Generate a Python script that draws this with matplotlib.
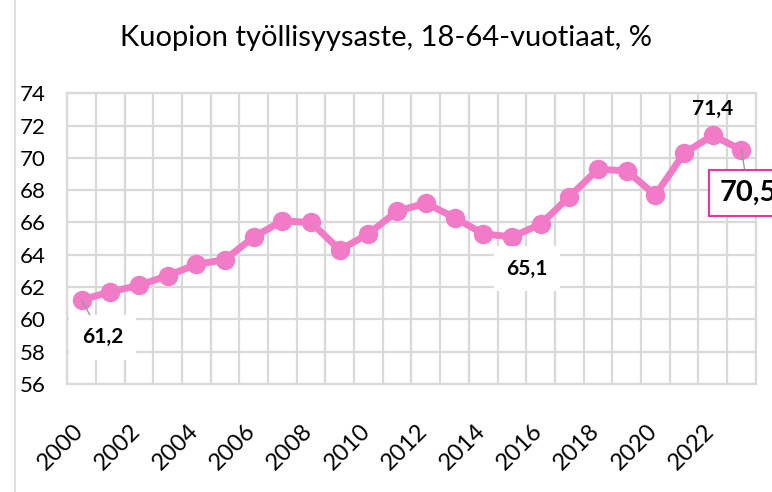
import matplotlib.pyplot as plt
from matplotlib.patches import Rectangle
from matplotlib.ticker import MultipleLocator
from matplotlib.transforms import ScaledTranslation

plt.rcParams['font.family'] = ['Lato', 'DejaVu Sans']

# Kuopion työllisyysaste 18-64-vuotiaat, % (luettu kuvasta)
years = list(range(2000, 2024))
rate = [61.2, 61.7, 62.1, 62.7, 63.4, 63.7, 65.1, 66.1, 66.0, 64.3,
        65.3, 66.7, 67.2, 66.3, 65.3, 65.1, 65.9, 67.6, 69.3, 69.2,
        67.7, 70.3, 71.4, 70.5]
tick_years = years[::2]

pink = '#f27bc8'
grid_col = '#d9d9d9'

fig = plt.figure(figsize=(7.72, 4.92), dpi=100)
ax = fig.add_axes([0.087, 0.22, 0.892, 0.59])

x = list(range(len(years)))
ax.plot(x, rate, color=pink, lw=5, marker='o', ms=13, zorder=3)

ax.set_ylim(56, 74)
ax.set_xlim(-0.5, len(years) - 0.5)
ax.yaxis.set_major_locator(MultipleLocator(2))
ax.set_xticks([years.index(y) for y in tick_years])
ax.set_xticklabels([str(y) for y in tick_years], rotation=45, ha='right',
                   rotation_mode='anchor', fontsize=17)
ax.set_xticks([i - 0.5 for i in range(len(years) + 1)], minor=True)
ax.tick_params(axis='x', which='both', length=0, pad=26)
ax.tick_params(axis='y', length=0, labelsize=16, pad=34)
for lab in ax.get_yticklabels():
    lab.set_horizontalalignment('left')
for lab in ax.get_xticklabels():
    lab.set_transform(lab.get_transform() + ScaledTranslation(-0.09, 0, fig.dpi_scale_trans))

ax.grid(True, which='major', axis='y', color=grid_col, lw=1.6)
ax.grid(True, which='minor', axis='x', color=grid_col, lw=1.6)
for s in ax.spines.values():
    s.set_color(grid_col)
    s.set_linewidth(1.6)

fig.suptitle('Kuopion työllisyysaste, 18-64-vuotiaat, %', fontsize=21, y=0.95)

# data labels
box_w = dict(boxstyle='square,pad=0.6', fc='white', ec='none')
ax.annotate(f'{rate[0]:.1f}'.replace('.', ','), (0, rate[0]), xytext=(15, -27),
            textcoords='offset points', ha='center', va='center', fontsize=15,
            fontweight='bold', bbox=box_w,
            arrowprops=dict(arrowstyle='-', color='#999999', lw=1, shrinkA=0, shrinkB=0))
i15 = years.index(2015)
ax.annotate(f'{rate[i15]:.1f}'.replace('.', ','), (i15, rate[i15]), xytext=(11, -23),
            textcoords='offset points', ha='center', va='center', fontsize=15,
            fontweight='bold', bbox=box_w)
i22 = years.index(2022)
ax.annotate(f'{rate[i22]:.1f}'.replace('.', ','), (i22, rate[i22]), xytext=(0, 12),
            textcoords='offset points', ha='center', va='bottom', fontsize=15,
            fontweight='bold')
i23 = years.index(2023)
ax.annotate(f'{rate[i23]:.1f}'.replace('.', ','), (i23, rate[i23]), xytext=(5, -31),
            textcoords='offset points', ha='center', va='center', fontsize=21,
            fontweight='bold', annotation_clip=False,
            bbox=dict(boxstyle='square,pad=0.35', fc='white', ec='#e8369e', lw=1.5),
            arrowprops=dict(arrowstyle='-', color='#999999', lw=1, shrinkA=0, shrinkB=0))

# chart area border
fig.patches.append(Rectangle((0.02, -0.01), 1.0, 1.03, transform=fig.transFigure,
                             fill=False, ec='#d9d9d9', lw=1.2))

fig.savefig('out.png', dpi=100)
